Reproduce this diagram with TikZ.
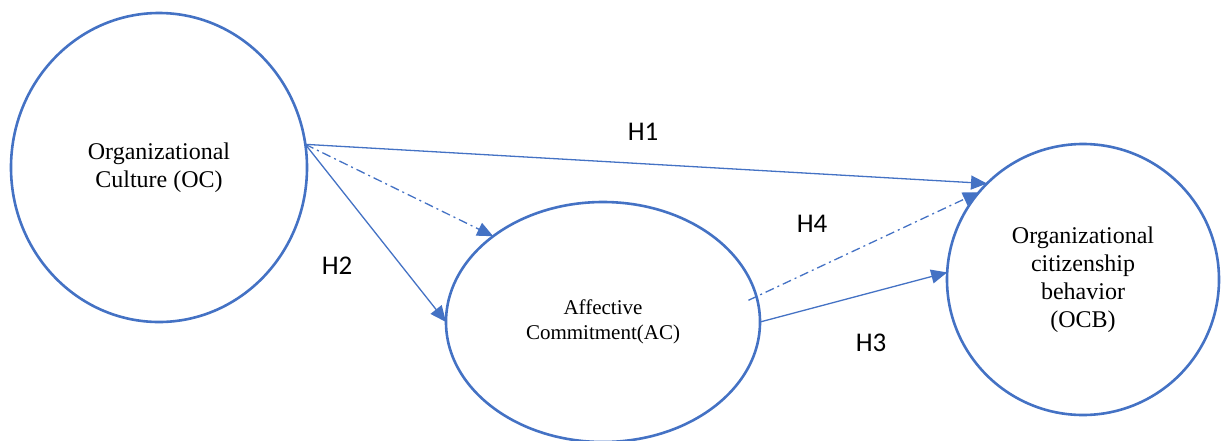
\documentclass[tikz,border=0pt]{standalone}
\usepackage{fontspec}
\setmainfont{Liberation Serif}
\newfontfamily\calibri{Carlito}
\usetikzlibrary{shapes.geometric,arrows.meta,calc}
\definecolor{officeblue}{HTML}{4472C4}
\begin{document}
\begin{tikzpicture}[x=1pt,y=-1pt,
  construct/.style={ellipse,draw=officeblue,line width=2.6pt,inner sep=0pt,outer sep=0pt,align=center,text=black},
  bigtext/.style={font=\fontsize{24}{28}\selectfont},
  smalltext/.style={font=\fontsize{21}{25}\selectfont},
  hlabel/.style={font=\calibri\fontsize{27}{30}\selectfont,text=black},
  link/.style={draw=officeblue,line width=1.3pt,-{Triangle[length=16pt,width=14pt]}},
  dashlink/.style={link,dash pattern=on 9pt off 4pt on 2pt off 4pt}
]
\useasboundingbox (0,0) rectangle (1224,440);
\node[construct,bigtext,minimum width=296pt,minimum height=309pt] (OC) at (159,167.5) {Organizational\\Culture (OC)};
\node[construct,smalltext,minimum width=314pt,minimum height=240pt] (AC) at (603,322) {Affective\\Commitment(AC)};
\node[construct,bigtext,minimum width=272pt,minimum height=271pt] (OCB) at (1083,279.5) {Organizational\\citizenship\\behavior\\(OCB)};
\coordinate (ACin) at ($(AC.8)+(-9,0)$);
\draw[link] (OC.9) -- (OCB.135.7);
\draw[dashlink] (OC.9) -- (AC.142.8);
\draw[link] (OC.9) -- (AC.180);
\draw[dashlink] (ACin) -- (OCB.140.8);
\draw[link] (AC.east) -- (OCB.177.3);
\node[hlabel] (H1) at (643,132) {H1};
\node[hlabel] (H2) at (337,266) {H2};
\node[hlabel] (H3) at (871,343) {H3};
\node[hlabel] (H4) at (812,224) {H4};
\end{tikzpicture}
\end{document}
